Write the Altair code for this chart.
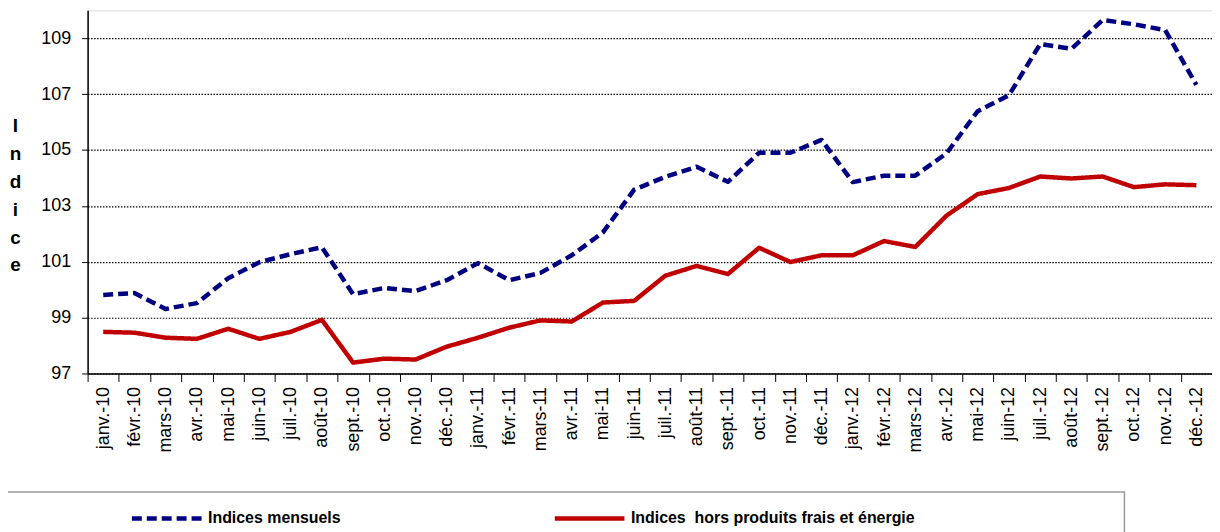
import altair as alt
import pandas as pd

months = ["janv.-10", "févr.-10", "mars-10", "avr.-10", "mai-10", "juin-10", "juil.-10", "août-10",
          "sept.-10", "oct.-10", "nov.-10", "déc.-10",
          "janv.-11", "févr.-11", "mars-11", "avr.-11", "mai-11", "juin-11", "juil.-11", "août-11",
          "sept.-11", "oct.-11", "nov.-11", "déc.-11",
          "janv.-12", "févr.-12", "mars-12", "avr.-12", "mai-12", "juin-12", "juil.-12", "août-12",
          "sept.-12", "oct.-12", "nov.-12", "déc.-12"]

mensuels = [99.81, 99.88, 99.31, 99.52, 100.41, 100.98, 101.27, 101.52,
            99.84, 100.06, 99.95, 100.34,
            100.95, 100.34, 100.60, 101.23, 102.05, 103.58, 104.04, 104.40,
            103.86, 104.90, 104.90, 105.36,
            103.85, 104.08, 104.08, 104.88, 106.39, 106.96, 108.79, 108.62,
            109.65, 109.50, 109.29, 107.33]

hors_pfe = [98.49, 98.46, 98.28, 98.24, 98.60, 98.24, 98.49, 98.92,
            97.39, 97.53, 97.50, 97.96,
            98.28, 98.64, 98.90, 98.86, 99.54, 99.60, 100.50, 100.85,
            100.56, 101.50, 100.99, 101.23,
            101.23, 101.74, 101.53, 102.65, 103.42, 103.64, 104.05, 103.98,
            104.05, 103.67, 103.77, 103.74]

series_names = ["Indices mensuels", "Indices\u00a0 hors produits frais et énergie"]
series_colors = ["#000080", "#C00000"]
series_dash = [[10, 5], [1, 0]]
y_ticks = [97, 99, 101, 103, 105, 107, 109]

rows = []
for m, a, b in zip(months, mensuels, hors_pfe):
    rows.append({"mois": m, "serie": series_names[0], "indice": a})
    rows.append({"mois": m, "serie": series_names[1], "indice": b})
df = pd.DataFrame(rows)

FONT = "Liberation Sans"

legend_opts = dict(title=None, orient="none", legendX=42, legendY=473,
                   direction="horizontal", symbolType="stroke",
                   symbolSize=4900, symbolStrokeWidth=4.5,
                   labelFont=FONT, labelFontSize=16, labelFontWeight="bold",
                   labelColor="black", labelLimit=600, labelOffset=4,
                   columnPadding=205, padding=0)

lines = alt.Chart(df).mark_line(strokeWidth=4.5, strokeCap="butt", strokeJoin="round").encode(
    x=alt.X("mois:N", sort=months, title=None,
            scale=alt.Scale(paddingInner=0, paddingOuter=0),
            axis=alt.Axis(labelAngle=-90, labelFontSize=18, labelFont=FONT, labelColor="black",
                          tickBand="extent", tickSize=8, tickColor="black", tickWidth=1,
                          domainColor="black", domainWidth=1.5, labelPadding=5, grid=False)),
    y=alt.Y("indice:Q", scale=alt.Scale(domain=[97, 110], nice=False, zero=False),
            title=["I", "n", "d", "i", "c", "e"],
            axis=alt.Axis(values=y_ticks, labelFontSize=18, labelFont=FONT, labelColor="black",
                          tickSize=6, tickColor="black", labelPadding=11,
                          domainColor="black", domainWidth=1.5,
                          grid=True, gridColor="black", gridDash=[1.5, 1.5], gridWidth=1.2,
                          titleAngle=0, titleFont=FONT, titleFontSize=19, titleFontWeight="bold",
                          titleLineHeight=28, titleX=-73, titleY=116, titleAlign="center",
                          titleBaseline="middle", titleColor="black")),
    color=alt.Color("serie:N", scale=alt.Scale(domain=series_names, range=series_colors),
                    legend=alt.Legend(**legend_opts)),
    strokeDash=alt.StrokeDash("serie:N", scale=alt.Scale(domain=series_names, range=series_dash),
                              legend=alt.Legend(**legend_opts)),
)

frame = alt.Chart(alt.Data(values=[{}])).mark_rect(
    fill=None, stroke="#9a9a9a", strokeWidth=1.5
).encode(x=alt.value(-95), x2=alt.value(1042), y=alt.value(484), y2=alt.value(640))

chart = alt.layer(frame, lines).properties(
    width=1130, height=365,
    autosize=alt.AutoSizeParams(type="none"),
    padding={"left": 80, "top": 1, "right": 0, "bottom": 158},
).configure_view(stroke="#9a9a9a", strokeWidth=1.5).configure(background="white")

chart.save("out.html", embed_options={"renderer": "svg", "actions": False})
